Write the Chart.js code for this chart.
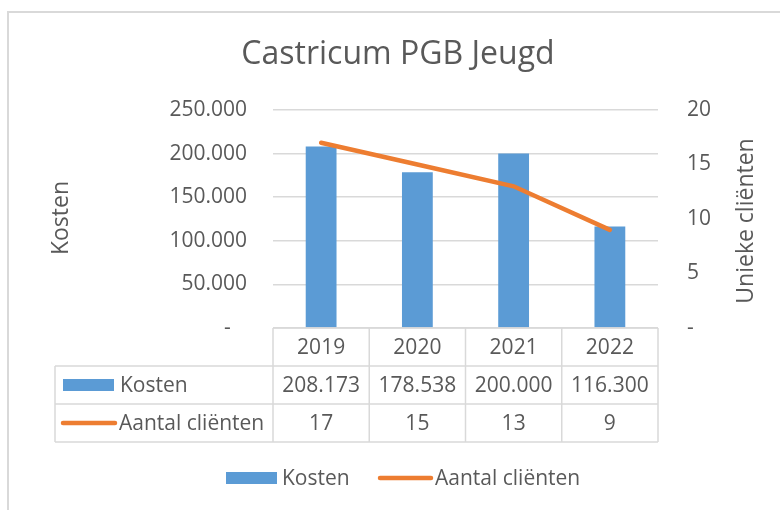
<!DOCTYPE html>
<html>
<head>
<meta charset="utf-8">
<script src="https://cdn.jsdelivr.net/npm/chart.js@4.4.1/dist/chart.umd.min.js"></script>
<style>
  html, body { margin: 0; padding: 0; background: #fff; }
  #wrap { width: 780px; height: 510px; }
</style>
</head>
<body>
<div id="wrap"><canvas id="chart" width="780" height="510"></canvas></div>
<script>
// DATA
const years = ['2019', '2020', '2021', '2022'];
const kosten = [208173, 178538, 200000, 116300];
const clienten = [17, 15, 13, 9];
const kostenTicks = [0, 50000, 100000, 150000, 200000, 250000];
const clientenTicks = [0, 5, 10, 15, 20];

const FONT = "'Open Sans', sans-serif";
const TEXT = '#595959';
const GRID = '#d9d9d9';
const BLUE = '#5b9bd5';
const ORANGE = '#ed7d31';

// 250000 -> "250.000", 0 -> "-" (excel accounting style)
const fmt = v => v === 0 ? '-' : String(v).replace(/\B(?=(\d{3})+(?!\d))/g, '.');

// draws title, axis titles, data table and legend
const extras = {
  id: 'extras',
  afterDraw(chart) {
    const ctx = chart.ctx;
    const area = chart.chartArea;
    const x = chart.scales.x;
    const colW = x.width / years.length;
    const rowH = 38;
    const tableLeft = 55;
    const top = area.bottom;

    ctx.save();
    // outer frame (only top + left visible)
    ctx.strokeStyle = GRID;
    ctx.lineWidth = 2;
    ctx.strokeRect(8, 12, 900, 700);

    // title
    ctx.fillStyle = TEXT;
    ctx.font = '32px ' + FONT;
    ctx.textAlign = 'center';
    ctx.textBaseline = 'alphabetic';
    ctx.fillText('Castricum PGB Jeugd', 398, 64);

    // axis titles (both read bottom-to-top)
    ctx.font = '23px ' + FONT;
    ctx.save();
    ctx.translate(68, 218);
    ctx.rotate(-Math.PI / 2);
    ctx.fillText('Kosten', 0, 0);
    ctx.restore();
    ctx.save();
    ctx.translate(753, 221);
    ctx.rotate(-Math.PI / 2);
    ctx.fillText('Unieke cliënten', 0, 0);
    ctx.restore();

    // table grid
    ctx.strokeStyle = GRID;
    ctx.lineWidth = 1.5;
    ctx.beginPath();
    ctx.moveTo(area.left, top);
    ctx.lineTo(area.right, top);
    for (let r = 1; r <= 3; r++) {
      ctx.moveTo(tableLeft, top + r * rowH);
      ctx.lineTo(area.right, top + r * rowH);
    }
    ctx.moveTo(tableLeft, top + rowH);
    ctx.lineTo(tableLeft, top + 3 * rowH);
    for (let i = 0; i <= years.length; i++) {
      const xx = area.left + i * colW;
      ctx.moveTo(xx, top);
      ctx.lineTo(xx, top + 3 * rowH);
    }
    ctx.stroke();

    // table text
    ctx.fillStyle = TEXT;
    ctx.font = '21px ' + FONT;
    ctx.textAlign = 'center';
    years.forEach((y, i) => {
      const cx = x.getPixelForValue(i);
      ctx.fillText(y, cx, top + rowH * 0.5 + 7);
      ctx.fillText(fmt(kosten[i]), cx, top + rowH * 1.5 + 7);
      ctx.fillText(String(clienten[i]), cx, top + rowH * 2.5 + 7);
    });

    // row headers with keys
    ctx.textAlign = 'left';
    ctx.fillStyle = BLUE;
    ctx.fillRect(63, top + rowH * 1.5 - 6, 51, 12);
    ctx.strokeStyle = ORANGE;
    ctx.lineWidth = 4.5;
    ctx.lineCap = 'round';
    ctx.beginPath();
    ctx.moveTo(63, top + rowH * 2.5);
    ctx.lineTo(115, top + rowH * 2.5);
    ctx.stroke();
    ctx.fillStyle = TEXT;
    ctx.fillText('Kosten', 120, top + rowH * 1.5 + 7);
    ctx.fillText('Aantal cliënten', 119, top + rowH * 2.5 + 7);

    // legend
    const ly = 478;
    ctx.fillStyle = BLUE;
    ctx.fillRect(226, ly - 6, 51, 12);
    ctx.beginPath();
    ctx.moveTo(380, ly);
    ctx.lineTo(431, ly);
    ctx.stroke();
    ctx.fillStyle = TEXT;
    ctx.fillText('Kosten', 282, ly + 7);
    ctx.fillText('Aantal cliënten', 435, ly + 7);
    ctx.restore();
  }
};

new Chart(document.getElementById('chart'), {
  type: 'bar',
  data: {
    labels: years,
    datasets: [
      {
        type: 'line',
        label: 'Aantal cliënten',
        data: clienten,
        yAxisID: 'y1',
        borderColor: ORANGE,
        borderWidth: 4.5,
        borderCapStyle: 'round',
        pointRadius: 0,
        tension: 0,
        order: 0,
      },
      {
        label: 'Kosten',
        data: kosten,
        yAxisID: 'y',
        backgroundColor: BLUE,
        barPercentage: 0.32,
        categoryPercentage: 1,
        order: 1,
      },
    ],
  },
  options: {
    responsive: false,
    animation: false,
    devicePixelRatio: 1,
    layout: { padding: { top: 110, bottom: 182, left: 0, right: 0 } },
    plugins: {
      legend: { display: false },
      tooltip: { enabled: false },
      title: { display: false },
    },
    scales: {
      x: { display: false },
      y: {
        position: 'left',
        min: 0,
        max: 250000,
        afterBuildTicks: s => { s.ticks = kostenTicks.map(v => ({ value: v })); },
        afterFit: s => { s.width = 273; },
        border: { display: false },
        grid: { color: GRID, lineWidth: 1.5, drawTicks: false },
        ticks: {
          color: TEXT,
          padding: 26,
          font: { family: FONT, size: 21 },
          callback: v => v === 0 ? '-   ' : fmt(v),
        },
      },
      y1: {
        position: 'right',
        min: 0,
        max: 20,
        afterBuildTicks: s => { s.ticks = clientenTicks.map(v => ({ value: v })); },
        afterFit: s => { s.width = 122; },
        border: { display: false },
        grid: { display: false, drawTicks: false },
        ticks: {
          color: TEXT,
          padding: 29,
          font: { family: FONT, size: 21 },
          callback: v => fmt(v),
        },
      },
    },
  },
  plugins: [extras],
});
</script>
</body>
</html>
